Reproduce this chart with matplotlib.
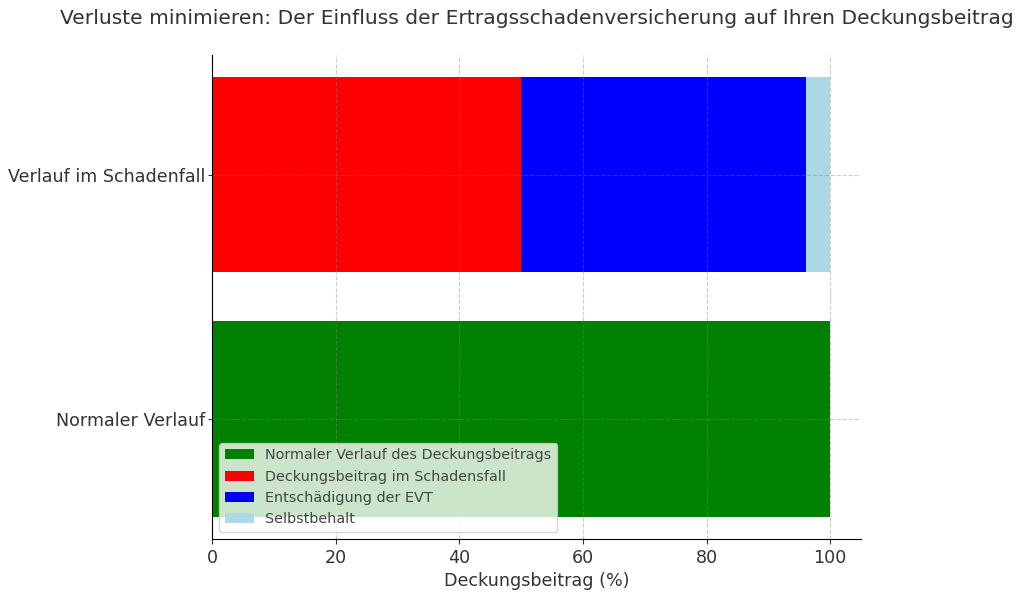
import matplotlib.pyplot as plt

categories = ["Normaler Verlauf", "Verlauf im Schadenfall"]
normal = [100, 0]
schaden = [0, 50]
entschaedigung = [0, 46]
selbstbehalt = [0, 4]

plt.rcParams["text.color"] = "#333333"
plt.rcParams["axes.labelcolor"] = "#333333"
plt.rcParams["xtick.color"] = "#333333"
plt.rcParams["ytick.color"] = "#333333"

fig = plt.figure(figsize=(10.24, 5.95), dpi=100)
ax = fig.add_axes([0.207, 0.094, 0.634, 0.814])

ax.barh(categories, normal, height=0.8, color="green", label="Normaler Verlauf des Deckungsbeitrags")
ax.barh(categories, schaden, height=0.8, color="red", label="Deckungsbeitrag im Schadensfall")
ax.barh(categories, entschaedigung, height=0.8, left=schaden, color="blue", label="Entschädigung der EVT")
left2 = [a + b for a, b in zip(schaden, entschaedigung)]
ax.barh(categories, selbstbehalt, height=0.8, left=left2, color="lightblue", label="Selbstbehalt")

ax.set_xlim(0, 105)
ax.set_xlabel("Deckungsbeitrag (%)", fontsize=12.6)
ax.set_title("Verluste minimieren: Der Einfluss der Ertragsschadenversicherung auf Ihren Deckungsbeitrag",
             fontsize=14.6, pad=22)
ax.tick_params(labelsize=12.6)
ax.tick_params(axis="y", length=3, pad=1.5)
ax.grid(True, linestyle="--", color="grey", alpha=0.4, linewidth=0.8)
ax.set_axisbelow(False)
ax.spines["top"].set_visible(False)
ax.spines["right"].set_visible(False)
for s in ("left", "bottom"):
    ax.spines[s].set_zorder(5)
leg = ax.legend(loc="lower left", fontsize=10.4)
leg.set_zorder(6)
for t in leg.get_texts():
    t.set_color("#444444")

fig.savefig("out.png", dpi=100)
